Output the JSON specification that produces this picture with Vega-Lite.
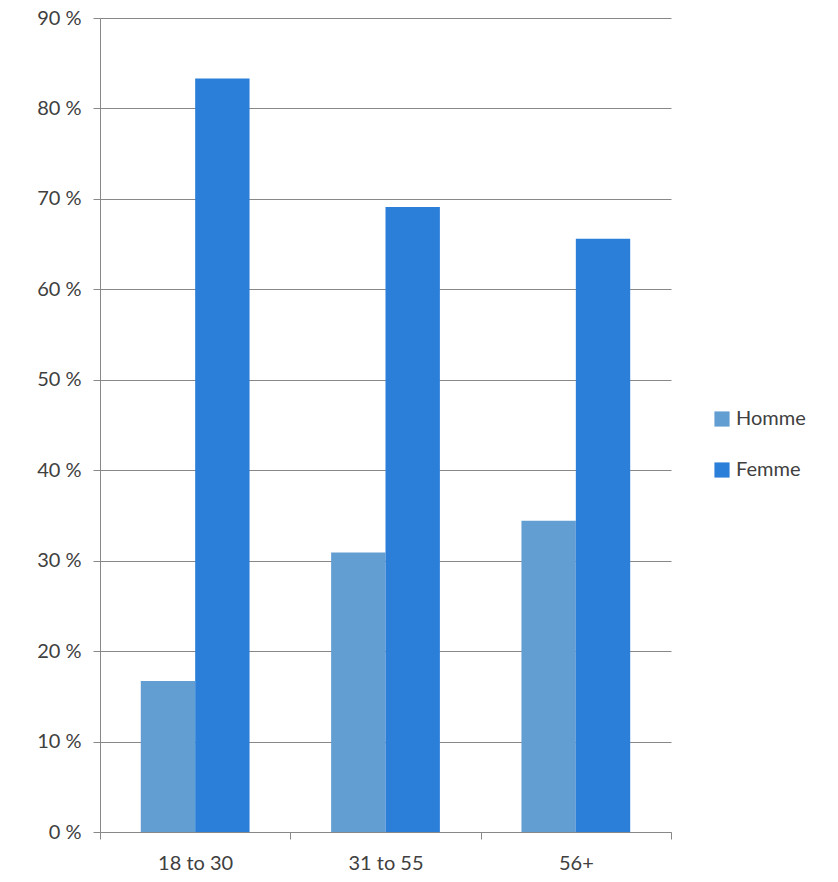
{
  "$schema": "https://vega.github.io/schema/vega-lite/v6.json",
  "autosize": "none",
  "padding": {"left": 100, "top": 18, "right": 167, "bottom": 50},
  "width": 571,
  "height": 814,
  "background": "white",
  "config": {
    "font": "Lato",
    "view": {"stroke": null},
    "axis": {"labelFont": "Lato", "labelColor": "#404040", "labelFontSize": 20}
  },
  "data": {
    "values": [
      {"age": "18 to 30", "sexe": "Homme", "pct": 16.7},
      {"age": "18 to 30", "sexe": "Femme", "pct": 83.3},
      {"age": "31 to 55", "sexe": "Homme", "pct": 30.9},
      {"age": "31 to 55", "sexe": "Femme", "pct": 69.1},
      {"age": "56+", "sexe": "Homme", "pct": 34.4},
      {"age": "56+", "sexe": "Femme", "pct": 65.6}
    ]
  },
  "mark": {"type": "bar"},
  "encoding": {
    "x": {
      "field": "age",
      "type": "nominal",
      "sort": null,
      "scale": {"paddingInner": 0, "paddingOuter": 0},
      "axis": {
        "title": null,
        "labelAngle": 0,
        "tickBand": "extent",
        "domainColor": "#888888",
        "tickColor": "#888888",
        "tickSize": 7,
        "labelPadding": 14,
        "grid": false
      }
    },
    "xOffset": {
      "field": "sexe",
      "type": "nominal",
      "sort": ["Homme", "Femme"],
      "scale": {"paddingInner": 0, "paddingOuter": 0.75}
    },
    "y": {
      "field": "pct",
      "type": "quantitative",
      "scale": {"domain": [0, 90], "nice": false},
      "axis": {
        "title": null,
        "values": [0, 10, 20, 30, 40, 50, 60, 70, 80, 90],
        "labelExpr": "datum.value + ' %'",
        "grid": true,
        "gridColor": "#888888",
        "gridOpacity": 1,
        "domainColor": "#888888",
        "tickColor": "#888888",
        "tickSize": 7,
        "labelPadding": 12
      }
    },
    "color": {
      "field": "sexe",
      "type": "nominal",
      "sort": ["Homme", "Femme"],
      "scale": {"domain": ["Homme", "Femme"], "range": ["#639ed3", "#2b7fd9"]},
      "legend": {
        "title": null,
        "orient": "none",
        "legendX": 612,
        "legendY": 391,
        "symbolType": "square",
        "symbolSize": 230,
        "symbolStrokeWidth": 0,
        "symbolOpacity": 1,
        "labelFontSize": 20,
        "labelFont": "Lato",
        "labelColor": "#404040",
        "labelOffset": 4,
        "rowPadding": 31
      }
    }
  }
}
